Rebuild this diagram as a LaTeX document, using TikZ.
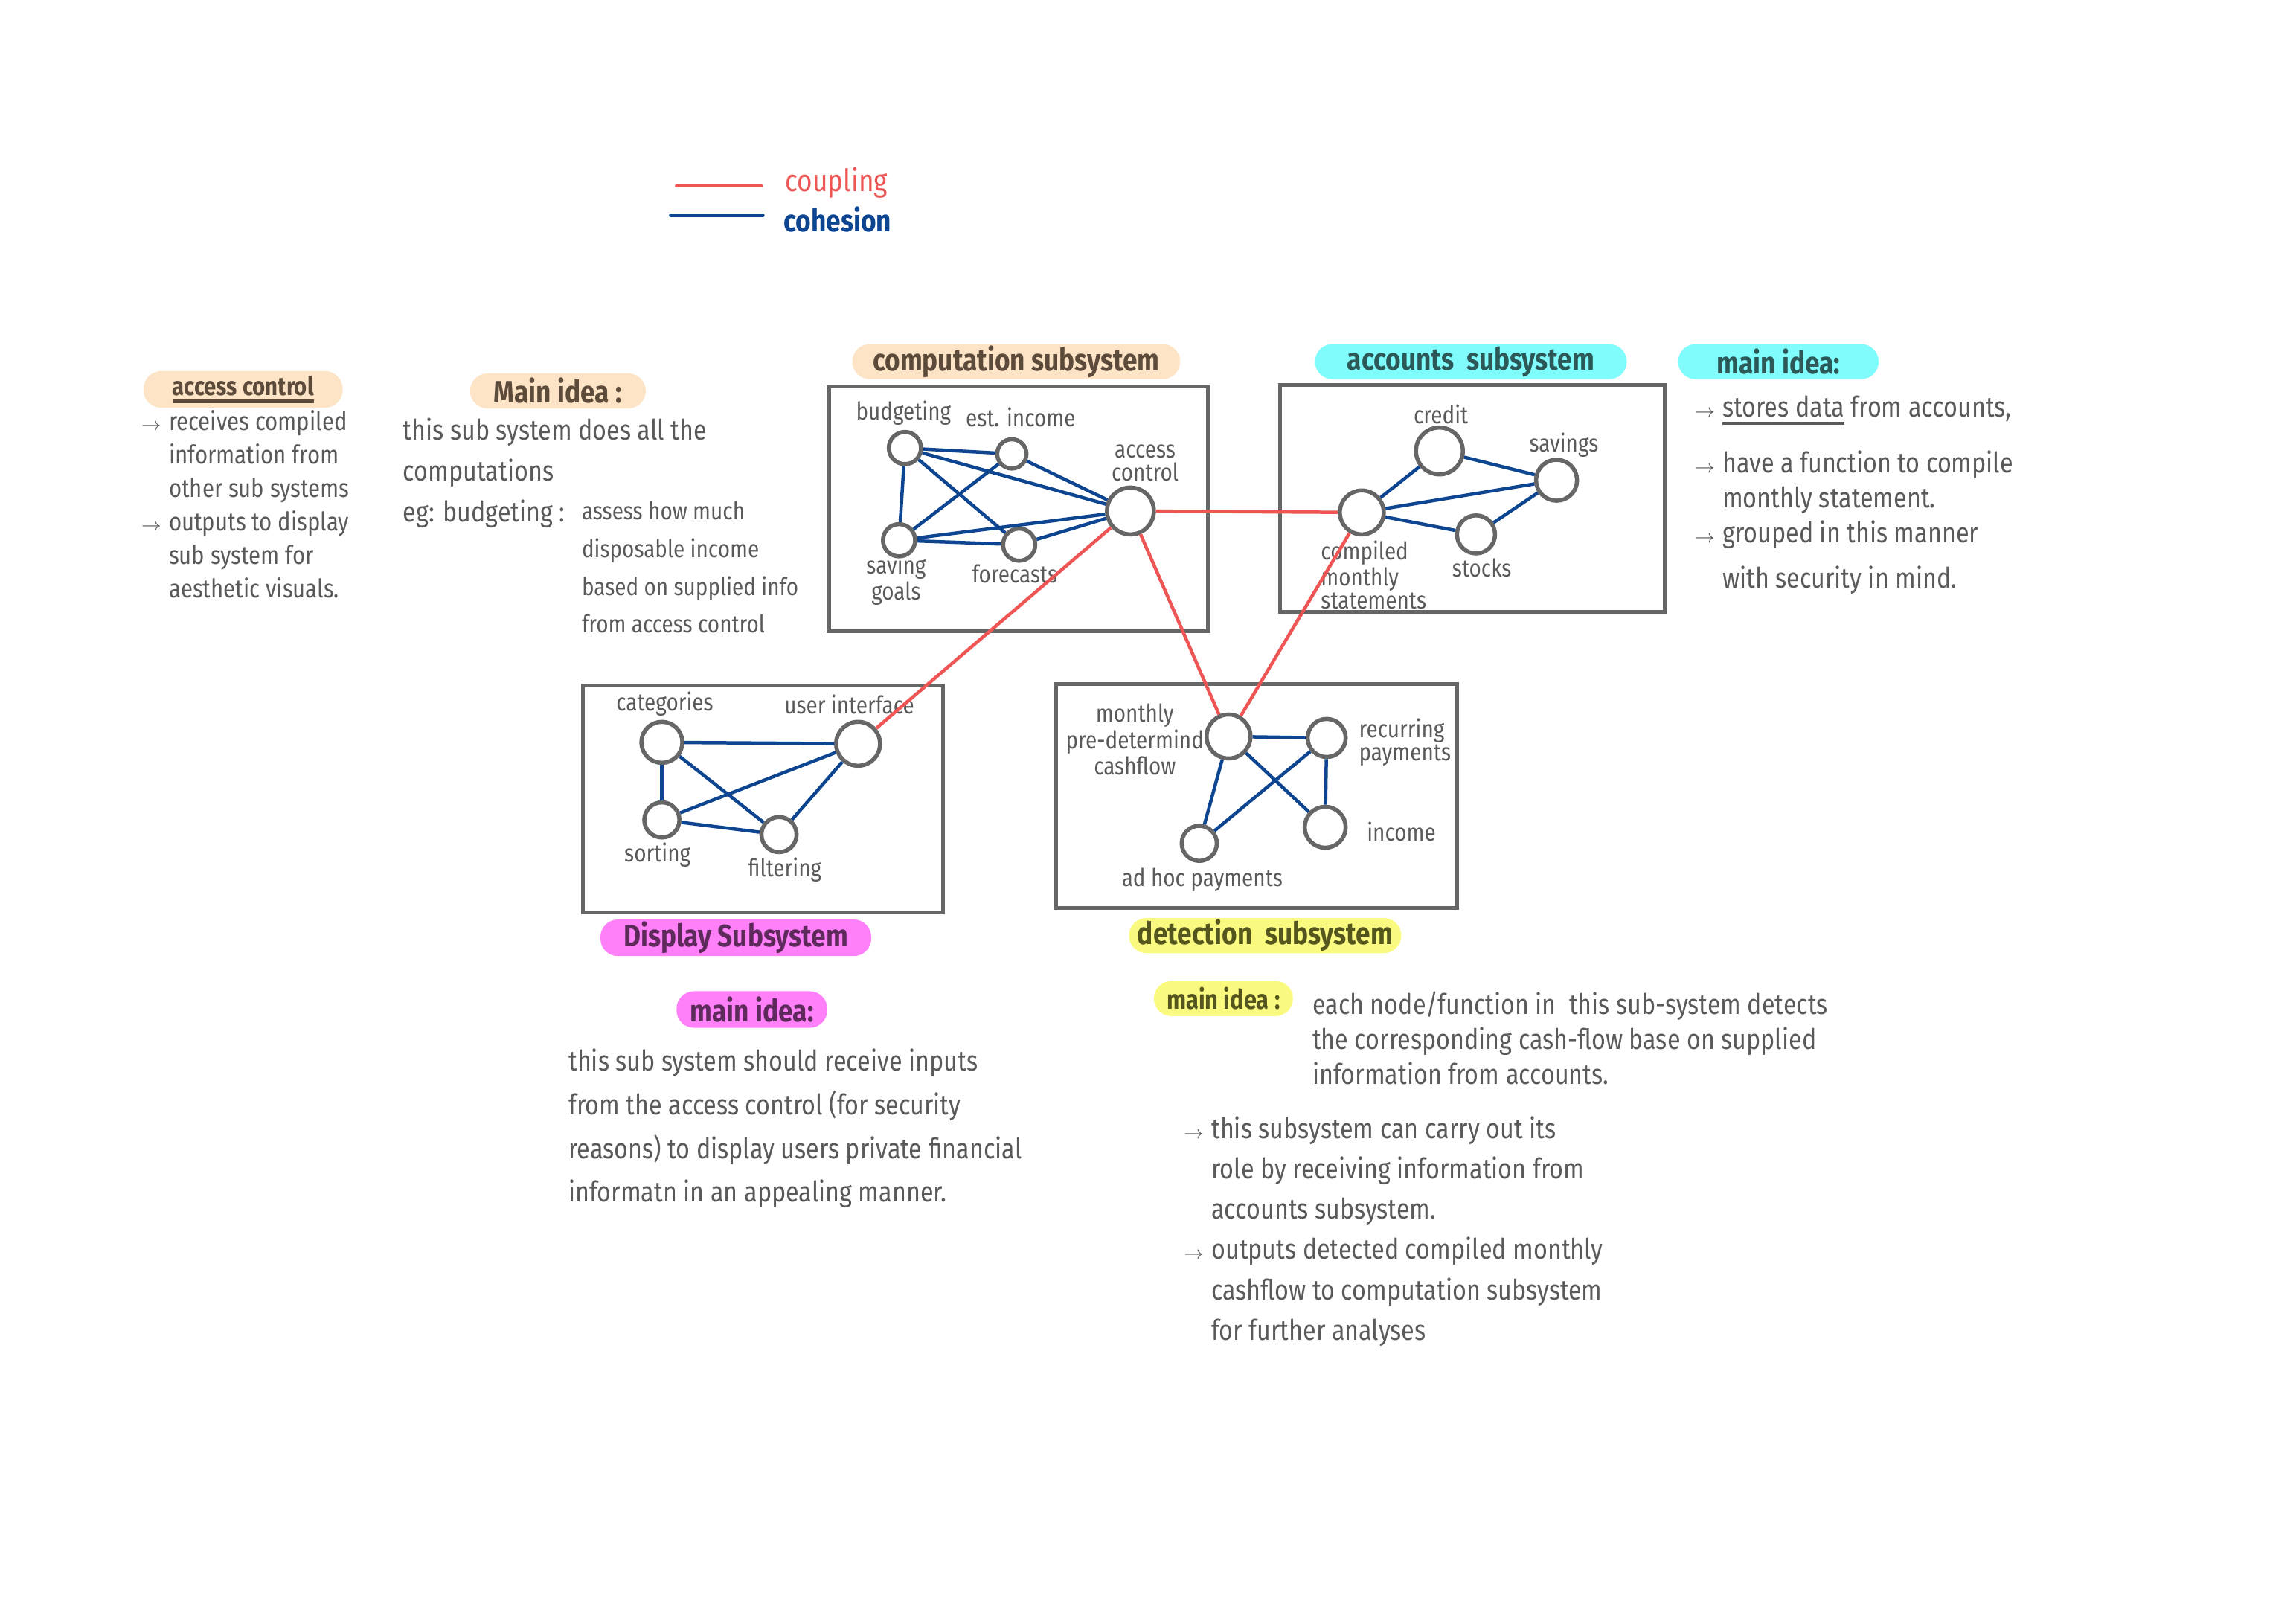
\documentclass[tikz,border=0pt]{standalone}
\usepackage{fontspec}
\setmainfont{Fira Sans}[FakeStretch=0.85]
\usepackage{tikz}
\usetikzlibrary{positioning,calc}
\definecolor{inkgray}{HTML}{5A5A5A}
\definecolor{boxgray}{HTML}{666666}
\definecolor{cohblue}{HTML}{0D4590}
\definecolor{coupred}{HTML}{EE5555}
\definecolor{peach}{HTML}{FDE4C6}
\definecolor{aqua}{HTML}{80FCFC}
\definecolor{pinkhl}{HTML}{FF80F8}
\definecolor{yellowhl}{HTML}{FAFA80}
\definecolor{peachtxt}{HTML}{5C4A3A}
\definecolor{aquatxt}{HTML}{2C5858}
\definecolor{pinktxt}{HTML}{5E2A5C}
\definecolor{yellowtxt}{HTML}{55551E}

\newcommand{\markul}[1]{\setbox0\hbox{#1}\rlap{\rule[-3pt]{\wd0}{1.3pt}}\box0\relax}
\newcommand{\arrbul}{\makebox[0.38cm][l]{\scriptsize$\rightarrow$}}
\newcommand{\arrind}{\hspace*{0.38cm}}

\tikzset{
  fnode/.style={circle, draw=boxgray, line width=1.6pt, fill=white, inner sep=0pt},
  subbox/.style={draw=boxgray, line width=1.5pt, inner sep=0pt},
  pill/.style={rounded corners=0.24cm, inner sep=0pt, minimum height=0.48cm,
    font=\fontsize{12}{14}\selectfont\bfseries},
  lbl/.style={text=inkgray, inner sep=1pt, align=center,
    font=\fontsize{9.5}{9}\selectfont},
  note/.style={text=inkgray, inner sep=0pt, anchor=north west, align=left},
  cohes/.style={draw=cohblue, line width=1.3pt},
  coupl/.style={draw=coupred, line width=1.3pt},
}

\begin{document}
\begin{tikzpicture}[x=0.02cm,y=-0.02cm]
  \useasboundingbox (0,0) rectangle (1568,1109);

  % legend
  \coordinate (cpA) at (462,127);
  \coordinate (cpB) at (520,127);
  \coordinate (chA) at (458,147);
  \coordinate (chB) at (521,147);
  \draw[coupl, line cap=round] (cpA) -- (cpB);
  \draw[cohes, line cap=round] (chA) -- (chB);
  \node[anchor=west, text=coupred, font=\fontsize{12}{14}\selectfont, inner sep=0pt] (cplegend) at (536,125) {coupling};
  \node[anchor=west, text=cohblue, font=\fontsize{12}{14}\selectfont\bfseries, inner sep=0pt] (chlegend) at (535,150) {cohesion};

  % left notes
  \node[pill, fill=peach, text=peachtxt, minimum width=2.72cm, minimum height=0.5cm,
    font=\fontsize{10}{12}\selectfont\bfseries] (acpill) at (166,266) {\markul{access control}};
  \node[note, font=\fontsize{10}{13}\selectfont] (aclist) at (96,280) {
    \arrbul receives compiled\\ \arrind information from\\ \arrind other sub systems\\
    \arrbul outputs to display\\ \arrind sub system for\\ \arrind aesthetic visuals.};

  \node[pill, fill=peach, text=peachtxt, minimum width=2.4cm] (compidea) at (381,267) {Main idea :};
  \node[note, font=\fontsize{11}{16}\selectfont] (compdesc) at (275,285) {
    this sub system does all the\\ computations\\ eg: budgeting :};
  \node[note, font=\fontsize{9.5}{14.7}\selectfont] (compeg) at (397,342) {
    assess how much\\ disposable income\\ based on supplied info\\ from access control};

  % computation subsystem
  \node[pill, fill=peach, text=peachtxt, minimum width=4.48cm] (comppill) at (694,247) {computation subsystem};
  \node[subbox, minimum width=5.18cm, minimum height=3.34cm] (compbox) at (695.5,347.5) {};
  \node[fnode, minimum size=0.44cm] (budget) at (618,306) {};
  \node[fnode, minimum size=0.40cm] (estinc) at (691,310) {};
  \node[fnode, minimum size=0.44cm] (savgoal) at (614,369) {};
  \node[fnode, minimum size=0.44cm] (forecast) at (696,372) {};
  \node[fnode, minimum size=0.64cm] (access) at (772,349) {};
  \node[lbl] (budgetlbl) at (617,282) {budgeting};
  \node[lbl] (estinclbl) at (697,285) {est. income};
  \node[lbl] (accesslbl) at (782,316) {access\\control};
  \node[lbl] (savgoallbl) at (612,396) {saving\\goals};
  \node[lbl] (forecastlbl) at (693,392) {forecasts};
  \draw[cohes] (budget) -- (estinc);
  \draw[cohes] (budget) -- (savgoal);
  \draw[cohes] (budget) -- (forecast);
  \draw[cohes] (budget) -- (access);
  \draw[cohes] (estinc) -- (savgoal);
  \draw[cohes] (estinc) -- (access);
  \draw[cohes] (savgoal) -- (access);
  \draw[cohes] (savgoal) -- (forecast);
  \draw[cohes] (forecast) -- (access);

  % accounts subsystem
  \node[pill, fill=aqua, text=aquatxt, minimum width=4.26cm] (acctpill) at (1004.5,247) {accounts\ \ subsystem};
  \node[subbox, minimum width=5.26cm, minimum height=3.10cm] (acctbox) at (1005.5,340.5) {};
  \node[fnode, minimum size=0.64cm] (credit) at (983,308) {};
  \node[fnode, minimum size=0.56cm] (savings) at (1063,328) {};
  \node[fnode, minimum size=0.60cm] (compiled) at (930,350) {};
  \node[fnode, minimum size=0.52cm] (stocks) at (1008,365) {};
  \node[lbl] (creditlbl) at (984,283) {credit};
  \node[lbl] (savingslbl) at (1068,304) {savings};
  \node[lbl, align=left, anchor=north west] (compiledlbl) at (900,367) {compiled\\monthly\\statements};
  \node[lbl] (stockslbl) at (1012,388) {stocks};
  \draw[cohes] (compiled) -- (credit);
  \draw[cohes] (compiled) -- (savings);
  \draw[cohes] (compiled) -- (stocks);
  \draw[cohes] (credit) -- (savings);
  \draw[cohes] (stocks) -- (savings);

  \node[pill, fill=aqua, text=aquatxt, minimum width=2.74cm] (acctidea) at (1214.5,247) {main idea:};
  \node[note, font=\fontsize{11}{13.6}\selectfont] (acctdesc) at (1157,270) {
    \arrbul \markul{stores data} from accounts,\\[0.28cm]
    \arrbul have a function to compile\\ \arrind monthly statement.\\
    \arrbul grouped in this manner\\[0.14cm] \arrind with security in mind.};

  % display subsystem
  \node[subbox, minimum width=4.92cm, minimum height=3.10cm] (dispbox) at (521,545.5) {};
  \node[fnode, minimum size=0.56cm] (categ) at (452,507) {};
  \node[fnode, minimum size=0.60cm] (uiface) at (586,508) {};
  \node[fnode, minimum size=0.48cm] (sorting) at (452,560) {};
  \node[fnode, minimum size=0.48cm] (filter) at (532,570) {};
  \node[lbl] (categlbl) at (454,481) {categories};
  \node[lbl] (uifacelbl) at (580,481) {user interface};
  \node[lbl] (sortinglbl) at (449,584) {sorting};
  \node[lbl] (filterlbl) at (536,594) {filtering};
  \draw[cohes] (categ) -- (uiface);
  \draw[cohes] (categ) -- (sorting);
  \draw[cohes] (categ) -- (filter);
  \draw[cohes] (sorting) -- (uiface);
  \draw[cohes] (sorting) -- (filter);
  \draw[cohes] (filter) -- (uiface);
  \node[pill, fill=pinkhl, text=pinktxt, minimum width=3.7cm, minimum height=0.5cm] (disppill) at (502.5,640.5) {Display Subsystem};

  \node[pill, fill=pinkhl, text=pinktxt, minimum width=2.06cm, minimum height=0.5cm] (dispidea) at (513.5,689.5) {main idea:};
  \node[note, font=\fontsize{11}{17}\selectfont] (dispdesc) at (388,716) {
    this sub system should receive inputs\\ from the access control (for security\\
    reasons) to display users private financial\\ informatn in an appealing manner.};

  % detection subsystem
  \node[subbox, minimum width=5.48cm, minimum height=3.06cm] (detbox) at (858,543.5) {};
  \node[fnode, minimum size=0.60cm] (monthly) at (839,503) {};
  \node[fnode, minimum size=0.52cm] (recur) at (906,504) {};
  \node[fnode, minimum size=0.56cm] (income) at (905,565) {};
  \node[fnode, minimum size=0.48cm] (adhoc) at (819,576) {};
  \node[lbl] (monthlylbl) at (775,505) {monthly\\pre-determind\\cashflow};
  \node[lbl, align=left, anchor=west] (recurlbl) at (926,507) {recurring\\payments};
  \node[lbl] (incomelbl) at (957,568) {income};
  \node[lbl] (adhoclbl) at (821,601) {ad hoc payments};
  \draw[cohes] (monthly) -- (recur);
  \draw[cohes] (monthly) -- (income);
  \draw[cohes] (monthly) -- (adhoc);
  \draw[cohes] (recur) -- (adhoc);
  \draw[cohes] (recur) -- (income);
  \node[pill, fill=yellowhl, text=yellowtxt, minimum width=3.72cm] (detpill) at (864,639) {detection\ \ subsystem};

  \node[pill, fill=yellowhl, text=yellowtxt, minimum width=1.9cm,
    font=\fontsize{10.5}{12}\selectfont\bfseries] (detidea) at (835.5,682) {main idea :};
  \node[note, font=\fontsize{11}{13.6}\selectfont] (detdesc) at (896,677) {
    each node/function in\ \ this sub-system detects\\
    the corresponding cash-flow base on supplied\\ information from accounts.};
  \node[note, font=\fontsize{11}{15.7}\selectfont] (detlist) at (808,762) {
    \arrbul this subsystem can carry out its\\ \arrind role by receiving information from\\
    \arrind accounts subsystem.\\
    \arrbul outputs detected compiled monthly\\ \arrind cashflow to computation subsystem\\
    \arrind for further analyses};

  % coupling between subsystems
  \draw[coupl] (access) -- (compiled);
  \draw[coupl] (access) -- (uiface);
  \draw[coupl] (access) -- (monthly);
  \draw[coupl] (compiled) -- (monthly);
\end{tikzpicture}
\end{document}
